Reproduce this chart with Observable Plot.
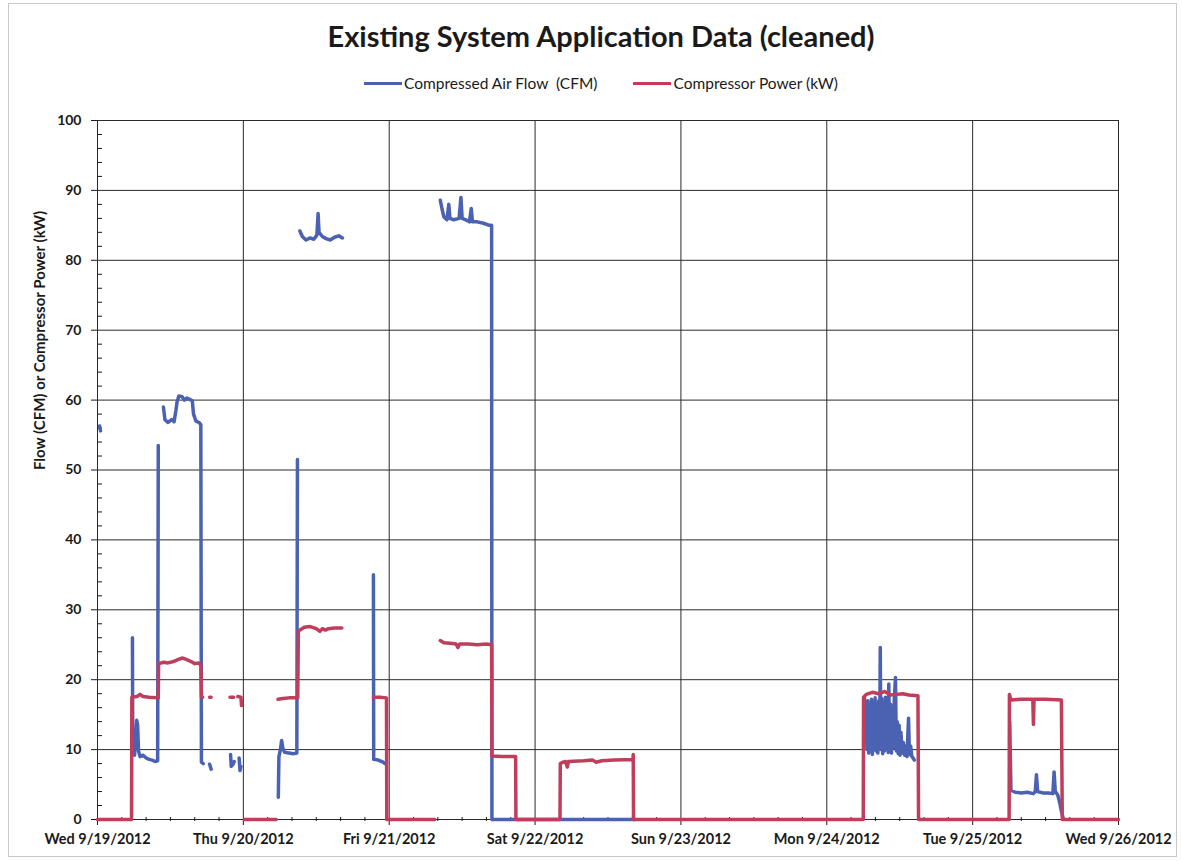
<!DOCTYPE html>
<html>
<head>
<meta charset="utf-8">
<script src="https://cdn.jsdelivr.net/npm/d3@7"></script>
<script src="https://cdn.jsdelivr.net/npm/@observablehq/plot@0.6"></script>
<style>
  html, body { margin: 0; padding: 0; background: #fff; }
  #chart { position: relative; width: 1182px; height: 861px; font-family: Lato, "Open Sans", sans-serif; color: #1a1a1a; }
  #border { position: absolute; left: 8px; top: 3px; width: 1169px; height: 854px; border: 1px solid #c8c8c8; box-sizing: border-box; }
  #title { position: absolute; left: 20px; top: 18px; width: 1162px; text-align: center; font-size: 29px; font-weight: bold; }
  #legend { position: absolute; left: 20px; top: 74px; width: 1162px; display: flex; justify-content: center; font-size: 15.5px; gap: 36px; white-space: pre; }
  .item { display: flex; align-items: center; }
  .sw { width: 38px; height: 3px; margin-right: 2px; }
  #plot { position: absolute; left: 0; top: 100px; }
</style>
</head>
<body>
<div id="chart">
  <div id="border"></div>
  <div id="title"></div>
  <div id="legend"></div>
  <div id="plot"></div>
</div>
<script>
// ---- Data (hours since Wed 9/19/2012 00:00) ----
const seriesNames = ["Compressed Air Flow  (CFM)", "Compressor Power (kW)"];
const seriesColors = ["#4b62b2", "#c03d5c"];

const flowHours = [
  0.35, 0.5, null,
  5.75, 5.8, 6.1, 6.3, 6.45, 6.6, 6.75, 7.0, 7.5, 8.0, 8.5, 9.0, 9.5, 9.9, 10.0, null,
  10.85, 11.1, 11.6, 12.2, 12.6, 12.9, 13.1, 13.4, 13.9, 14.3, 14.7, 15.2, 15.6, 15.8, 16.2, 16.7, 17.0, 17.1, 17.4, null,
  18.45, 18.7, null,
  21.9, 22.0, 22.3, 22.5, null,
  23.3, 23.45, 23.6, null,
  29.75, 29.85, 30.1, 30.3, 30.5, 30.8, 31.5, 32.2, 32.8, 32.9, null,
  33.3, 33.7, 34.3, 35.0, 35.6, 36.1, 36.3, 36.45, 37.0, 37.6, 38.3, 39.0, 39.7, 40.3, null,
  45.4, 45.45, 46.2, 47.0, 47.3, null,
  56.4, 56.7, 57.0, 57.5, 57.8, 58.0, 58.6, 59.5, 59.8, 60.0, 60.8, 61.2, 61.5, 61.7, 62.5, 63.5, 64.5, 64.85, 64.9, 70, 76, 82, 88.5, null,
  126.2, 126.35, 126.5, 126.6, 126.75, 126.9, 127.05, 127.2, 127.35, 127.5, 127.65, 127.8, 127.95, 128.1, 128.25, 128.4, 128.55, 128.7, 128.8, 128.9,
  129.05, 129.2, 129.35, 129.5, 129.65, 129.8, 129.95, 130.1, 130.2, 130.35, 130.5, 130.65, 130.8, 130.95, 131.1, 131.3, 131.45, 131.6, 131.75, 131.9,
  132.05, 132.2, 132.4, 132.6, 132.8, 133.0, 133.2, 133.45, 133.6, 133.8, 134.0, 134.2, 134.4, null,
  150.1, 150.3, 151.0, 152.0, 153.0, 154.0, 154.3, 154.5, 154.7, 155.5, 156.5, 157.2, 157.4, 157.6, 158.0, 158.3, 158.6, 158.9
];
const flowCFM = [
  56.3, 55.6, null,
  26.0, 9.5, 9.2, 12.0, 14.2, 13.5, 9.8, 9.0, 9.2, 8.8, 8.6, 8.5, 8.3, 8.4, 53.5, null,
  59.0, 57.2, 56.8, 57.2, 56.9, 58.5, 59.8, 60.6, 60.5, 60.0, 60.3, 60.1, 59.9, 58.0, 57.0, 56.8, 56.5, 8.2, 8.0, null,
  7.9, 7.2, null,
  9.3, 7.6, 7.9, 8.3, null,
  8.8, 7.0, 7.6, null,
  3.2, 9.0, 10.0, 11.3, 10.2, 9.6, 9.5, 9.4, 9.5, 51.5, null,
  84.2, 83.4, 82.9, 83.2, 83.0, 83.6, 86.7, 84.0, 83.4, 83.1, 82.9, 83.3, 83.5, 83.2, null,
  35.0, 8.6, 8.5, 8.2, 8.0, null,
  88.6, 87.3, 86.2, 85.8, 88.0, 86.0, 85.8, 86.0, 89.0, 86.0, 85.7, 85.5, 87.4, 85.5, 85.5, 85.3, 85.0, 85.0, 0, 0, 0, 0, 0, null,
  17.5, 11.0, 16.8, 10.0, 17.0, 9.5, 16.0, 10.5, 17.2, 9.3, 15.5, 10.0, 17.4, 9.8, 16.5, 9.5, 17.0, 11.0, 24.6, 10.0,
  17.3, 9.4, 16.0, 9.8, 17.5, 10.2, 15.8, 9.6, 19.4, 10.0, 16.5, 9.5, 15.0, 10.3, 17.0, 20.3, 9.8, 14.0, 9.4, 13.5,
  9.2, 12.5, 9.5, 11.0, 9.2, 10.5, 9.0, 14.5, 9.3, 10.5, 9.0, 8.8, 8.5, null,
  14.0, 4.2, 3.9, 3.8, 3.9, 3.7, 4.0, 6.4, 4.0, 3.8, 3.8, 3.7, 6.8, 4.0, 3.5, 2.5, 1.2, 0.2
];

const powerHours = [
  0, 5.6, 5.65, 6.5, 7.0, 7.5, 8.5, 10.0, 10.05, 10.9, 11.6, 12.5, 13.3, 14.0, 14.6, 15.4, 16.0, 16.6, 17.0, 17.1, 17.3, null,
  18.45, 18.7, null,
  21.8, 22.4, null,
  23.1, 23.6, 23.7, null,
  24.2, 29.4, null,
  29.7, 30.5, 31.5, 32.95, 33.05, 33.5, 34.0, 35.0, 36.0, 36.6, 37.0, 37.5, 38.0, 39.0, 40.2, null,
  45.4, 46.5, 47.55, 47.6, 55.5, null,
  56.4, 57.0, 58.0, 59.0, 59.3, 59.6, 61.0, 62.5, 64.0, 64.85, 64.9, 66.5, 68.8, 68.85, 76.1, 76.15, 76.6, 77.0, 77.3, 77.5,
  80.0, 81.5, 82.0, 83.0, 85.0, 88.1, 88.15, 88.2, 126.0, 126.05, 126.5, 127.5, 128.5, 129.5, 130.5, 131.5, 132.5, 133.5, 135.0, 135.1,
  150.0, 150.05, 150.3, 152.0, 153.9, 154.0, 154.1, 156.0, 158.6, 158.75, 168
];
const powerKW = [
  0, 0, 17.5, 17.6, 17.9, 17.6, 17.5, 17.4, 22.3, 22.5, 22.4, 22.6, 22.9, 23.1, 22.9, 22.6, 22.3, 22.4, 22.1, 17.5, 17.5, null,
  17.5, 17.5, null,
  17.5, 17.5, null,
  17.6, 17.5, 16.3, null,
  0, 0, null,
  17.2, 17.3, 17.4, 17.4, 27.0, 27.2, 27.5, 27.6, 27.3, 26.9, 27.3, 27.1, 27.3, 27.4, 27.4, null,
  17.5, 17.5, 17.4, 0, 0, null,
  25.6, 25.3, 25.2, 25.1, 24.6, 25.1, 25.1, 25.0, 25.1, 25.0, 9.1, 9.0, 9.0, 0, 0, 8.0, 8.2, 8.3, 7.5, 8.3,
  8.4, 8.5, 8.2, 8.4, 8.5, 8.6, 9.3, 0, 0, 17.5, 17.9, 18.2, 18.0, 18.3, 17.8, 17.9, 18.0, 17.8, 17.7, 0,
  0, 17.9, 17.1, 17.2, 17.2, 13.6, 17.2, 17.2, 17.1, 0, 0
];

const yTicks = [0, 10, 20, 30, 40, 50, 60, 70, 80, 90, 100];
const yLabel = "Flow (CFM) or Compressor Power (kW)";
const chartTitle = "Existing System Application Data (cleaned)";

// ---- Build table ----
const start = Date.UTC(2012, 8, 19);
const toDate = h => new Date(start + h * 3600e3);
const flowRows = flowHours.map((h, i) => ({t: h == null ? null : toDate(h), v: flowCFM[i]}));
const powerRows = powerHours.map((h, i) => ({t: h == null ? null : toDate(h), v: powerKW[i]}));

const x0 = new Date(start), x1 = new Date(start + 7 * 86400e3);
const days = d3.utcDay.range(x0, new Date(+x1 + 1));
const minorX = d3.utcHour.every(4).range(x0, x1).filter(d => d.getUTCHours() !== 0);
const minorY = d3.range(2, 100, 2).filter(v => v % 10 !== 0);

document.getElementById("title").textContent = chartTitle;
const legend = document.getElementById("legend");
seriesNames.forEach((n, i) => {
  const it = document.createElement("div"); it.className = "item";
  const sw = document.createElement("div"); sw.className = "sw"; sw.style.background = seriesColors[i];
  const tx = document.createElement("span"); tx.textContent = n;
  it.appendChild(sw); it.appendChild(tx); legend.appendChild(it);
});

const fmt = d3.utcFormat("%a %-m/%-d/%Y");
const chart = Plot.plot({
  width: 1182,
  height: 761,
  marginTop: 20,
  marginBottom: 42,
  marginLeft: 97,
  marginRight: 64,
  style: {fontFamily: "Lato, 'Open Sans', sans-serif", color: "#1a1a1a", background: "transparent", overflow: "visible"},
  x: {type: "utc", domain: [x0, x1]},
  y: {domain: [0, 100]},
  marks: [
    Plot.gridY({ticks: yTicks, stroke: "#2a2a2a", strokeOpacity: 1}),
    Plot.gridX({ticks: days, stroke: "#2a2a2a", strokeOpacity: 1}),
    Plot.frame({stroke: "#2a2a2a"}),
    Plot.axisY({ticks: minorY, tickSize: 5, dx: 5, tickFormat: () => "", label: null}),
    Plot.axisX({ticks: minorX, tickSize: 4, dy: -2, tickFormat: () => "", label: null}),
    Plot.axisY({ticks: yTicks, tickSize: 6, tickPadding: 10, fontSize: 14, fontWeight: "bold", label: null}),
    Plot.axisX({ticks: days, tickSize: 6, tickPadding: 8, tickFormat: fmt, fontSize: 14.5, fontWeight: "bold", label: null}),
    Plot.text([yLabel], {frameAnchor: "left", dx: -57, rotate: -90, fontSize: 15, fontWeight: "bold"}),
    Plot.line(flowRows, {x: "t", y: "v", stroke: seriesColors[0], strokeWidth: 3.5, strokeLinejoin: "round", strokeLinecap: "round"}),
    Plot.line(powerRows, {x: "t", y: "v", stroke: seriesColors[1], strokeWidth: 3.5, strokeLinejoin: "round", strokeLinecap: "round"})
  ]
});
document.getElementById("plot").appendChild(chart);
</script>
</body>
</html>
